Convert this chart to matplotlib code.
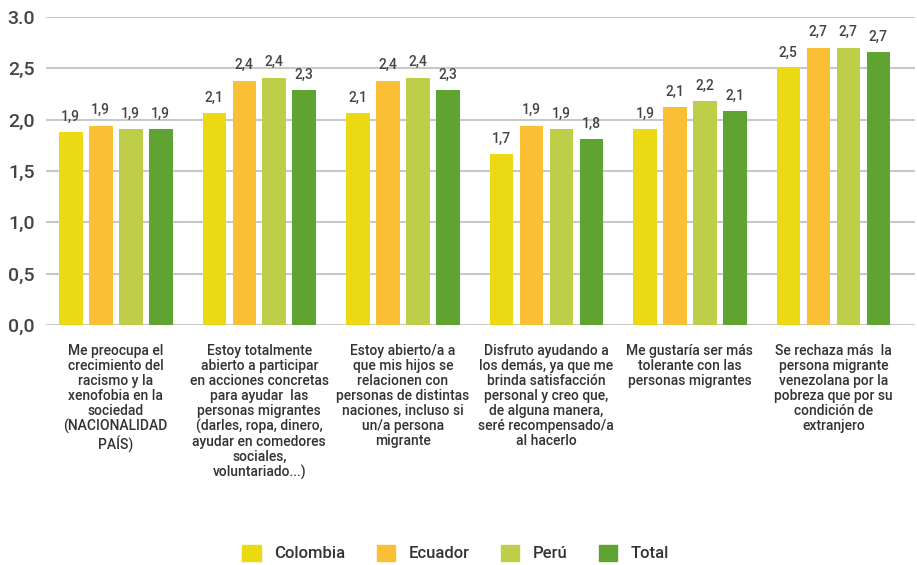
import numpy as np
import matplotlib.pyplot as plt
from matplotlib.patches import FancyBboxPatch

plt.rcParams['font.family'] = ['Roboto', 'DejaVu Sans']
plt.rcParams['font.weight'] = 'medium'

categories = [
    "Me preocupa el\ncrecimiento del\nracismo y la\nxenofobia en la\nsociedad\n(NACIONALIDAD\nPAÍS)",
    "Estoy totalmente\nabierto a participar\nen acciones concretas\npara ayudar  las\npersonas migrantes\n(darles, ropa, dinero,\nayudar en comedores\nsociales,\nvoluntariado...)",
    "Estoy abierto/a a\nque mis hijos se\nrelacionen con\npersonas de distintas\nnaciones, incluso si\nun/a persona\nmigrante",
    "Disfruto ayudando a\nlos demás, ya que me\nbrinda satisfacción\npersonal y creo que,\nde alguna manera,\nseré recompensado/a\nal hacerlo",
    "Me gustaría ser más\ntolerante con las\npersonas migrantes",
    "Se rechaza más  la\npersona migrante\nvenezolana por la\npobreza que por su\ncondición de\nextranjero",
]
series = ["Colombia", "Ecuador", "Perú", "Total"]
colombia = [1.88, 2.06, 2.06, 1.66, 1.91, 2.50]
ecuador = [1.94, 2.38, 2.38, 1.94, 2.12, 2.70]
peru = [1.91, 2.41, 2.41, 1.91, 2.18, 2.70]
total = [1.91, 2.29, 2.29, 1.81, 2.08, 2.66]
yticks = [0.0, 0.5, 1.0, 1.5, 2.0, 2.5, 3.0]
ytick_labels = ["0,0", "0,5", "1,0", "1,5", "2,0", "2,5", "3.0"]

colors = ["#EAD913", "#FBBF36", "#BFCE48", "#5FA433"]
values = [colombia, ecuador, peru, total]

fig = plt.figure(figsize=(9.17, 5.65), dpi=100)
ax = fig.add_axes([0.050, 0.425, 0.948, 0.545])

x = np.arange(len(categories))
step = 0.209
width = 0.164
for i, (name, vals, c) in enumerate(zip(series, values, colors)):
    pos = x + (i - 1.5) * step
    bars = ax.bar(pos, vals, width, color=c, label=name, zorder=3)
    for b, v in zip(bars, vals):
        ax.annotate(f"{v:.1f}".replace('.', ','),
                    (b.get_x() + b.get_width() / 2, v),
                    xytext=(0, 6), textcoords='offset points',
                    ha='center', va='bottom', fontsize=10, color='#444444')

ax.set_xlim(-0.487, 5.57)
ax.set_ylim(0, 3.0)
ax.set_yticks(yticks, ytick_labels)
ax.yaxis.grid(True, color='#c8c8c8', linewidth=1.5, zorder=0)
ax.set_axisbelow(True)
for s in ax.spines.values():
    s.set_visible(False)
ax.tick_params(axis='y', length=0, pad=8, labelsize=14, labelcolor='#444444')
ax.set_xticks(x, categories)
ax.tick_params(axis='x', length=0, pad=14, labelsize=10, labelcolor='#333333')
for t in ax.get_xticklabels():
    t.set_linespacing(1.08)
    t.set_va('top')

handles = [FancyBboxPatch((0, 0), 1, 1, boxstyle='round,pad=0,rounding_size=0.15',
                          color=c) for c in colors]
leg = fig.legend(handles, series, loc='center', bbox_to_anchor=(0.497, 0.021),
                 ncol=4, frameon=False, fontsize=12, handlelength=1.1,
                 handleheight=1.1, handletextpad=0.8, columnspacing=1.9,
                 labelcolor='#333333')

fig.savefig('out.png', dpi=100)
